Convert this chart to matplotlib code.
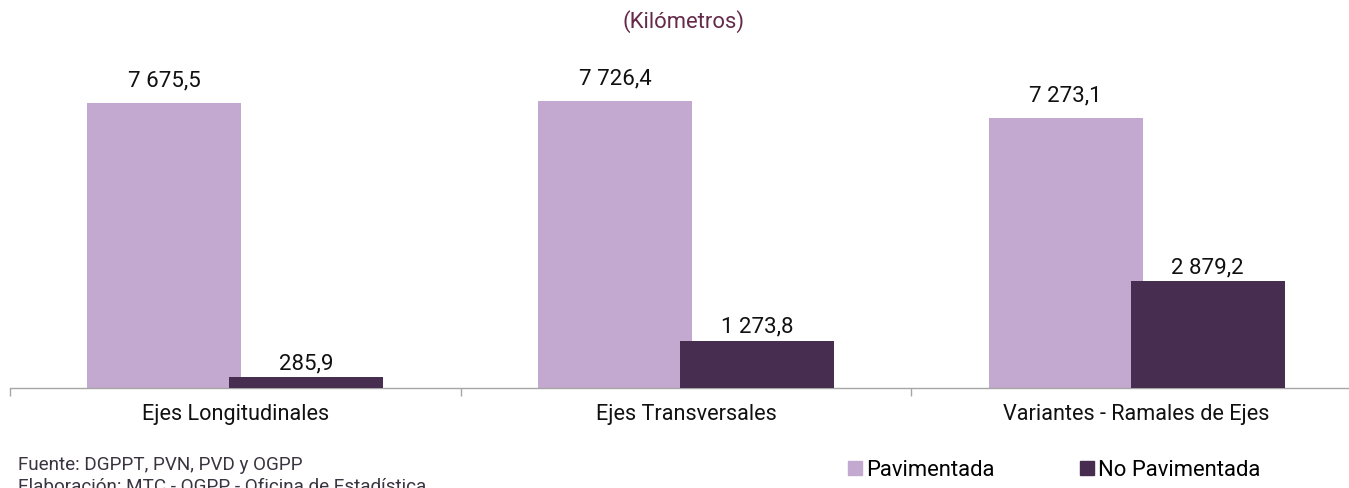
import matplotlib.pyplot as plt
from matplotlib.patches import Patch

categorias = ['Ejes Longitudinales', 'Ejes Transversales', 'Variantes - Ramales de Ejes']
pavimentada = [7675.5, 7726.4, 7273.1]
no_pavimentada = [285.9, 1273.8, 2879.2]
etiquetas_pav = ['7 675,5', '7 726,4', '7 273,1']
etiquetas_nopav = ['285,9', '1 273,8', '2 879,2']

c_pav = '#C3A8CF'
c_nopav = '#472D50'

plt.rcParams['font.family'] = ['Roboto', 'DejaVu Sans']

fig = plt.figure(figsize=(13.49, 4.89), dpi=100)
W, H = 1349, 489
# axis spans beyond the right edge, like the original crop
ax = fig.add_axes([10 / W, 100 / H, 1352 / W, 371 / H])

x = range(len(categorias))
w = 0.342
off = 0.1575
ax.bar([i - off for i in x], pavimentada, width=w, color=c_pav, zorder=2)
ax.bar([i + off for i in x], no_pavimentada, width=w, color=c_nopav, zorder=3)

for i in x:
    ax.annotate(etiquetas_pav[i], (i - off, pavimentada[i]), xytext=(0, 9),
                textcoords='offset points', ha='center', va='bottom', fontsize=16, color='#111111')
    ax.annotate(etiquetas_nopav[i], (i + off, no_pavimentada[i]), xytext=(0, 3),
                textcoords='offset points', ha='center', va='bottom', fontsize=16, color='#111111')

ax.set_xlim(-0.5, 2.5)
ax.set_ylim(0, 10000)
ax.set_yticks([])
for s in ['top', 'right', 'left']:
    ax.spines[s].set_visible(False)
ax.spines['bottom'].set_color('#A6A6A6')
ax.spines['bottom'].set_linewidth(1.0)

ax.set_xticks(list(x))
ax.set_xticklabels(categorias, fontsize=15.6, color='#111111')
ax.tick_params(axis='x', which='major', length=0, pad=11)
ax.set_xticks([-0.5, 0.5, 1.5, 2.5], minor=True)
ax.tick_params(axis='x', which='minor', length=6, color='#A6A6A6', width=1.0)

fig.text(683 / W, 1 - 22 / H, '(Kilómetros)', ha='center', va='center', fontsize=15.8, color='#652A4A')

fig.text(18 / W, 1 - 465 / H, 'Fuente: DGPPT, PVN, PVD y OGPP', ha='left', va='center',
         fontsize=13.6, color='#3A3340')
fig.text(18 / W, 1 - 487 / H, 'Elaboración: MTC - OGPP - Oficina de Estadística', ha='left', va='center',
         fontsize=13.6, color='#3A3340')

handles = [Patch(color=c_pav, label='Pavimentada'), Patch(color=c_nopav, label='No Pavimentada')]
fig.legend(handles=handles, loc='center left', bbox_to_anchor=(848 / W, 1 - 471 / H), ncol=2,
           frameon=False, fontsize=15.8, handlelength=0.62, handleheight=0.62,
           handletextpad=0.2, columnspacing=3.9, borderpad=0, borderaxespad=0)

fig.savefig('out.png', dpi=100)
